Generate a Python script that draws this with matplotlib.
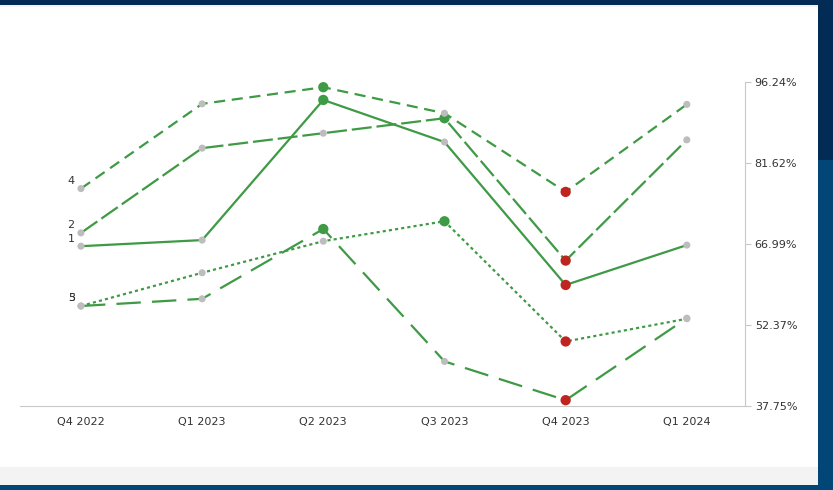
import numpy as np
import matplotlib
matplotlib.use("Agg")
import matplotlib.pyplot as plt
from matplotlib.patches import Rectangle

# quarters on the x axis
quarters = ["Q4 2022", "Q1 2023", "Q2 2023", "Q3 2023", "Q4 2023", "Q1 2024"]

# series values (percent)
s1 = [66.6, 67.7, 93.0, 85.4, 59.6, 66.8]
s2 = [69.0, 84.3, 87.0, 89.7, 64.0, 85.8]
s3 = [55.8, 61.8, 67.5, 71.1, 49.4, 53.5]
s4 = [77.0, 92.3, 95.3, 90.6, 76.4, 92.2]
s5 = [55.8, 57.1, 69.7, 45.8, 38.8, 53.6]
series_names = ["1", "2", "3", "4", "5"]

y_min, y_max = 37.75, 96.24
y_ticks = [37.75, 52.37, 66.99, 81.62, 96.24]

green = "#3e9a44"
red = "#bf2420"
grey = "#bdbdbd"

styles = {
    "1": "-",
    "2": (0, (9, 2.2)),
    "3": (0, (1.4, 1.4)),
    "4": (0, (5, 3)),
    "5": (0, (11, 5)),
}

fig = plt.figure(figsize=(8.33, 4.90), dpi=100)
fig.patch.set_facecolor("white")

# frame around the chart
W, H = 833, 490
def px_rect(x0, y0, x1, y1, color):
    fig.patches.append(Rectangle((x0 / W, 1 - y1 / H), (x1 - x0) / W, (y1 - y0) / H,
                                 transform=fig.transFigure, facecolor=color,
                                 edgecolor="none", zorder=-10))

px_rect(0, 467, 818, 485, "#f3f3f3")
px_rect(0, 0, 833, 5, "#022b55")
px_rect(818, 0, 833, 160, "#022b55")
px_rect(818, 160, 833, 490, "#014677")
px_rect(0, 485, 833, 490, "#014677")
px_rect(0, 5, 818, 7, "#f4f4f7")

ax = fig.add_axes([20 / W, 1 - 406 / H, 725 / W, 324 / H])
ax.set_facecolor("none")

x = np.arange(len(quarters))
data = [s1, s2, s3, s4, s5]
for name, vals in zip(series_names, data):
    vals = np.array(vals)
    ax.plot(x, vals, color=green, lw=1.6, linestyle=styles[name], zorder=2,
            solid_capstyle="butt", dash_capstyle="butt")
    hi, lo = vals.argmax(), vals.argmin()
    colors = [grey] * len(vals)
    sizes = [26] * len(vals)
    colors[hi], sizes[hi] = green, 55
    colors[lo], sizes[lo] = red, 55
    ax.scatter(x, vals, c=colors, s=sizes, zorder=3, linewidths=0)
    ax.annotate(name, (x[0], vals[0]), xytext=(-4.5, 5.5), textcoords="offset points",
                ha="right", va="center", fontsize=8, color="#333333")

ax.set_xlim(-0.503, 5.48)
ax.set_ylim(y_min, y_max)

for side in ["top", "left"]:
    ax.spines[side].set_visible(False)
ax.spines["right"].set_color("#c8c8c8")
ax.spines["bottom"].set_color("#c8c8c8")

ax.yaxis.tick_right()
ax.set_yticks(y_ticks)
ax.set_yticklabels(["{:.2f}%".format(v) for v in y_ticks])
ax.tick_params(axis="y", length=4, color="#c8c8c8", labelsize=8, labelcolor="#333333", pad=3)

ax.set_xticks(x)
ax.set_xticklabels(quarters)
ax.tick_params(axis="x", length=0, labelsize=8, labelcolor="#333333", pad=8)

fig.savefig("out.png", dpi=100)
